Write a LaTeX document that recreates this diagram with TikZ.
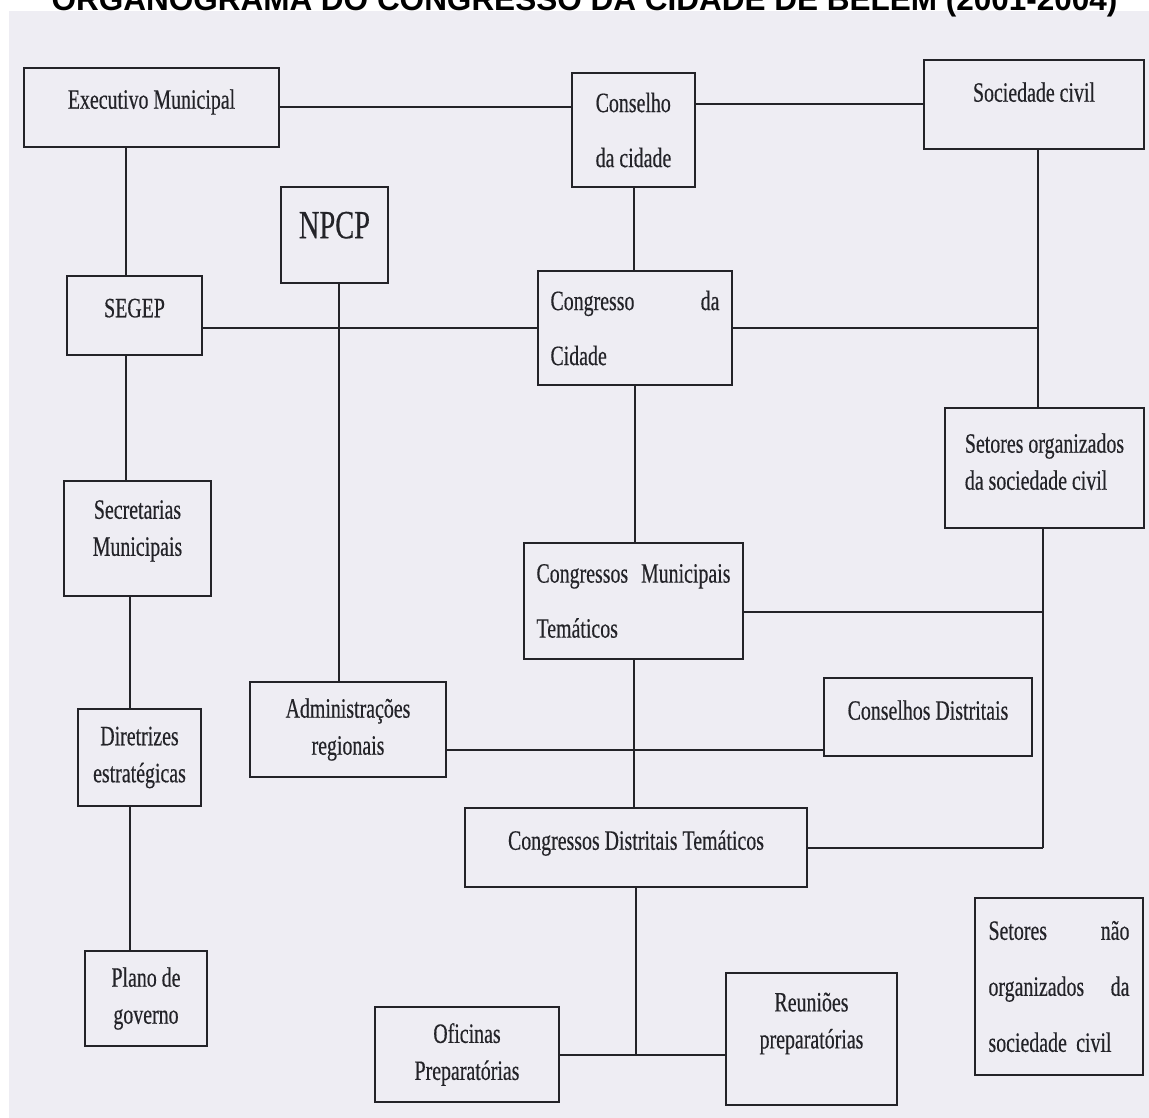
\documentclass[tikz,border=0pt]{standalone}
\usepackage{fontspec}
\setmainfont{Liberation Serif}[FakeStretch=0.71, FakeBold=0.4]
\newfontfamily\titlefont{Liberation Sans}
\usepackage{tikz}
\definecolor{papel}{RGB}{238,237,243}
\definecolor{tinta}{RGB}{35,35,40}
\tikzset{box/.style = {draw = tinta, text = tinta, shape = rectangle, line width = 2pt, inner sep = 0pt, align = center, font = \fontsize{28}{37}\selectfont}}
\tikzset{wide/.style = {font = \fontsize{28}{55}\selectfont}}
\tikzset{edge/.style = {-, draw = tinta, line width = 2pt}}

\begin{document}
\begin{tikzpicture}[x = 1pt, y = -1pt]
	\useasboundingbox (0,0) rectangle (1149,1118);
	\fill[white] (0,0) rectangle (1149,1118);
	\fill[papel] (9,11) rectangle (1149,1118);
	\node[anchor = base, text = black, font = \titlefont\bfseries\fontsize{31.5}{36}\selectfont] (titulo) at (584.5,10.5) {ORGANOGRAMA DO CONGRESSO DA CIDADE DE BELÉM (2001-2004)};

	\node[box, minimum width = 255pt, minimum height = 79pt, text depth = 17pt] (exec) at (151.5,107.5) {Executivo Municipal};
	\node[box, wide, align = left, minimum width = 123pt, minimum height = 114pt] (conselho) at (633.5,130) {Conselho\\da cidade};
	\node[box, minimum width = 220pt, minimum height = 89pt, text depth = 25pt] (soc) at (1034,104.5) {Sociedade civil};
	\node[box, font = \fontsize{40}{44}\selectfont, minimum width = 107pt, minimum height = 96pt, text depth = 20pt] (npcp) at (334.5,235) {NPCP};
	\node[box, minimum width = 135pt, minimum height = 79pt, text depth = 15pt] (segep) at (134.5,315.5) {SEGEP};
	\node[box, wide, text width = 169pt, align = left, minimum width = 194pt, minimum height = 114pt] (congresso) at (635,328) {Congresso\hfill da\\Cidade};
	\node[box, align = left, minimum width = 199pt, minimum height = 120pt, text depth = 13pt] (setorg) at (1044.5,468) {Setores organizados\\da sociedade civil};
	\node[box, minimum width = 147pt, minimum height = 115pt, text depth = 21pt] (secret) at (137.5,538.5) {Secretarias\\Municipais};
	\node[box, wide, text width = 194pt, align = left, minimum width = 219pt, minimum height = 116pt] (cmt) at (633.5,601) {Congressos\hfill Municipais\\Temáticos};
	\node[box, minimum width = 196pt, minimum height = 95pt] (admreg) at (348,729.5) {Administrações\\regionais};
	\node[box, minimum width = 208pt, minimum height = 78pt, text depth = 14pt] (consd) at (928,717) {Conselhos Distritais};
	\node[box, minimum width = 123pt, minimum height = 97pt] (diret) at (139.5,757.5) {Diretrizes\\estratégicas};
	\node[box, minimum width = 342pt, minimum height = 79pt, text depth = 15pt] (cdt) at (636,847.5) {Congressos Distritais Temáticos};
	\node[box, font = \fontsize{28}{56}\selectfont, text width = 141pt, align = left, minimum width = 168pt, minimum height = 177pt] (setnao) at (1059,986.5) {Setores\hfill não\\organizados\hfill da\\\mbox{sociedade civil}};
	\node[box, minimum width = 122pt, minimum height = 95pt] (plano) at (146,998.5) {Plano de\\governo};
	\node[box, minimum width = 184pt, minimum height = 95pt] (oficinas) at (467,1054.5) {Oficinas\\Preparatórias};
	\node[box, minimum width = 171pt, minimum height = 132pt, text depth = 37pt] (reunioes) at (811.5,1039) {Reuniões\\preparatórias};

	\coordinate (socline) at ([xshift = 4pt]soc.south);
	\coordinate (setline) at ([xshift = -2pt]setorg.south);

	\draw[edge] (exec) -- (exec -| conselho.west);
	\draw[edge] (soc) -- (soc -| conselho.east);
	\draw[edge] (conselho.south) -- (conselho.south |- congresso.north);
	\draw[edge] ([xshift = -9pt]segep.north) -- ([xshift = -9pt]segep.north |- exec.south);
	\draw[edge] (congresso) -- (congresso -| segep.east);
	\draw[edge] ([xshift = 4pt]npcp.south) -- ([xshift = 4pt]npcp.south |- admreg.north);
	\draw[edge] (socline) -- (socline |- setorg.north);
	\draw[edge] (congresso) -- (congresso -| socline);
	\draw[edge] ([xshift = -9pt]segep.south) -- ([xshift = -9pt]segep.south |- secret.north);
	\draw[edge] ([xshift = -10pt]diret.north) -- ([xshift = -10pt]diret.north |- secret.south);
	\draw[edge] ([xshift = -10pt]diret.south) -- ([xshift = -10pt]diret.south |- plano.north);
	\draw[edge] (congresso.south) -- (congresso.south |- cmt.north);
	\draw[edge] (setline) -- (setline |- cdt.east);
	\draw[edge] ([yshift = -11pt]cmt.east) -- ([yshift = -11pt]cmt.east -| setline);
	\draw[edge] (cdt) -- (cdt -| setline);
	\draw[edge] (cmt.south) -- (cmt.south |- cdt.north);
	\draw[edge] ([yshift = -20pt]admreg.east) -- ([yshift = -20pt]admreg.east -| consd.west);
	\draw[edge] (cdt.south) -- (cdt.south |- oficinas.east);
	\draw[edge] (oficinas) -- (oficinas -| reunioes.west);
\end{tikzpicture}
\end{document}
